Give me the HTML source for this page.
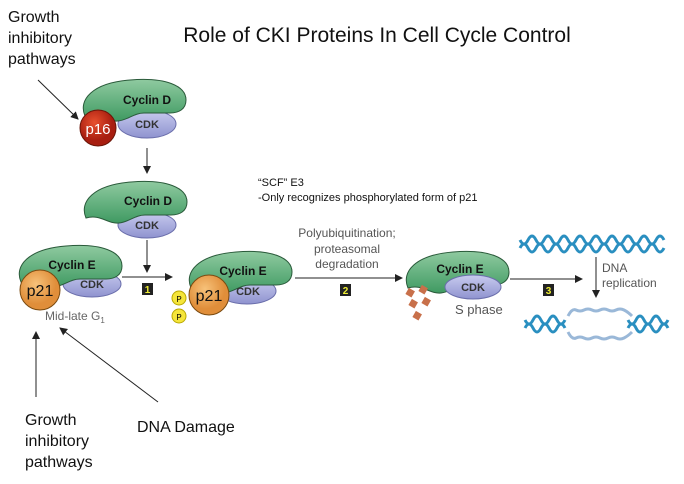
<!DOCTYPE html>
<html><head><style>body{margin:0;background:#fff}svg{display:block}</style></head><body>
<svg width="684" height="484" viewBox="0 0 684 484" xmlns="http://www.w3.org/2000/svg" font-family="Liberation Sans, sans-serif">
<defs>
<marker id="a" markerWidth="8" markerHeight="8" refX="7" refY="4" orient="auto" markerUnits="userSpaceOnUse"><path d="M0,0 L8,4 L0,8 Z" fill="#222"/></marker>
<linearGradient id="g" x1="0" y1="0" x2="0" y2="1"><stop offset="0" stop-color="#8fcaa0"/><stop offset="1" stop-color="#3f9a62"/></linearGradient>
<linearGradient id="c" x1="0" y1="0" x2="0" y2="1"><stop offset="0" stop-color="#c8cbef"/><stop offset="1" stop-color="#8f93cf"/></linearGradient>
<radialGradient id="r" cx="0.4" cy="0.35"><stop offset="0" stop-color="#e8502e"/><stop offset="1" stop-color="#a81e10"/></radialGradient>
<radialGradient id="o" cx="0.4" cy="0.35"><stop offset="0" stop-color="#f7c27a"/><stop offset="1" stop-color="#e08e3a"/></radialGradient>
<g id="cyc"><path d="M3,38 C-4,22 10,5 48,2 C84,-1 104,8 104,22 C104,31 97,35 88,35 L62,35 C52,35 46,42 36,43 C24,44 18,34 3,38 Z" fill="url(#g)" stroke="#2a5a3a" stroke-width="1"/></g>
</defs>
<text x="377" y="42" font-size="21" text-anchor="middle" fill="#111">Role of CKI Proteins In Cell Cycle Control</text>
<g font-size="16" fill="#111"><text x="8" y="22">Growth</text><text x="8" y="43">inhibitory</text><text x="8" y="64">pathways</text>
<text x="25" y="425">Growth</text><text x="25" y="446">inhibitory</text><text x="25" y="467">pathways</text>
<text x="137" y="432">DNA Damage</text></g>
<g stroke="#222" stroke-width="1" fill="none" marker-end="url(#a)">
<line x1="38" y1="80" x2="78" y2="119"/><line x1="36" y1="397" x2="36" y2="332"/><line x1="158" y1="402" x2="60" y2="328"/>
<line x1="147" y1="148" x2="147" y2="173"/><line x1="147" y1="240" x2="147" y2="272"/>
<line x1="122" y1="277" x2="172" y2="277"/><line x1="295" y1="278" x2="402" y2="278"/><line x1="510" y1="279" x2="582" y2="279"/><line x1="596" y1="257" x2="596" y2="297"/>
</g>
<!-- Cyclin D top -->
<ellipse cx="147" cy="124" rx="29" ry="14" fill="url(#c)" stroke="#6a6eab"/>
<use href="#cyc" x="82" y="78"/>
<circle cx="98" cy="128" r="18" fill="url(#r)" stroke="#6a1508"/>
<text x="98" y="134" font-size="15" fill="#fff" text-anchor="middle">p16</text>
<text x="147" y="104" font-size="12" font-weight="bold" text-anchor="middle" fill="#111">Cyclin D</text>
<text x="147" y="128" font-size="11" font-weight="bold" text-anchor="middle" fill="#333">CDK</text>
<!-- Cyclin D middle -->
<ellipse cx="147" cy="225" rx="29" ry="13" fill="url(#c)" stroke="#6a6eab"/>
<use href="#cyc" x="83" y="180"/>
<text x="148" y="205" font-size="12" font-weight="bold" text-anchor="middle" fill="#111">Cyclin D</text>
<text x="147" y="229" font-size="11" font-weight="bold" text-anchor="middle" fill="#333">CDK</text>
<!-- Cyclin E left -->
<ellipse cx="92" cy="284" rx="29" ry="13" fill="url(#c)" stroke="#6a6eab"/>
<use href="#cyc" x="18" y="244"/>
<circle cx="40" cy="290" r="20" fill="url(#o)" stroke="#7a4a10"/>
<text x="40" y="296" font-size="16" text-anchor="middle" fill="#111">p21</text>
<text x="72" y="269" font-size="12" font-weight="bold" text-anchor="middle" fill="#111">Cyclin E</text>
<text x="92" y="288" font-size="11" font-weight="bold" text-anchor="middle" fill="#333">CDK</text>
<text x="45" y="320" font-size="12" fill="#666">Mid-late G<tspan font-size="8" dy="3">1</tspan></text>
<rect x="142" y="283" width="11" height="12" fill="#222"/><text x="147.5" y="293" font-size="10" font-weight="bold" fill="#ee3" text-anchor="middle">1</text>
<!-- Cyclin E middle -->
<ellipse cx="247" cy="291" rx="29" ry="13" fill="url(#c)" stroke="#6a6eab"/>
<use href="#cyc" x="188" y="250"/>
<circle cx="209" cy="295" r="20" fill="url(#o)" stroke="#7a4a10"/>
<text x="209" y="301" font-size="16" text-anchor="middle" fill="#111">p21</text>
<text x="243" y="275" font-size="12" font-weight="bold" text-anchor="middle" fill="#111">Cyclin E</text>
<text x="248" y="295" font-size="11" font-weight="bold" text-anchor="middle" fill="#333">CDK</text>
<circle cx="179" cy="298" r="7" fill="#f5e53a" stroke="#b9a800"/><text x="179" y="302" font-size="8" text-anchor="middle">P</text>
<circle cx="179" cy="316" r="7" fill="#f5e53a" stroke="#b9a800"/><text x="179" y="320" font-size="8" text-anchor="middle">P</text>
<text x="258" y="186" font-size="11" fill="#111">“SCF” E3</text>
<text x="258" y="201" font-size="11" fill="#111">-Only recognizes phosphorylated  form of p21</text>
<g font-size="12" fill="#555" text-anchor="middle"><text x="347" y="237">Polyubiquitination;</text><text x="347" y="253">proteasomal</text><text x="347" y="268">degradation</text></g>
<rect x="340" y="284" width="11" height="12" fill="#222"/><text x="345.5" y="294" font-size="10" font-weight="bold" fill="#ee3" text-anchor="middle">2</text>
<!-- Cyclin E right -->
<use href="#cyc" x="405" y="250"/>
<ellipse cx="473" cy="287" rx="28" ry="12" fill="url(#c)" stroke="#6a6eab"/>
<text x="460" y="273" font-size="12" font-weight="bold" text-anchor="middle" fill="#111">Cyclin E</text>
<text x="473" y="291" font-size="11" font-weight="bold" text-anchor="middle" fill="#333">CDK</text>
<g fill="#c8704a"><rect x="407" y="289" width="7" height="7" transform="rotate(30 410 292)"/><rect x="420" y="286" width="7" height="7" transform="rotate(30 423 289)"/><rect x="410" y="300" width="7" height="7" transform="rotate(30 413 303)"/><rect x="423" y="298" width="7" height="7" transform="rotate(30 426 301)"/><rect x="414" y="312" width="7" height="7" transform="rotate(30 417 315)"/></g>
<text x="455" y="314" font-size="13" fill="#555">S phase</text>
<rect x="543" y="284" width="11" height="12" fill="#222"/><text x="548.5" y="294" font-size="10" font-weight="bold" fill="#ee3" text-anchor="middle">3</text>
<g font-size="12" fill="#555"><text x="602" y="272">DNA</text><text x="602" y="287">replication</text></g>
<g stroke="#2a8fc0" stroke-width="3" fill="none">
<path d="M520,240 q4,8 8,0 t8,0 t8,0 t8,0 t8,0 t8,0 t8,0 t8,0 t8,0 t8,0 t8,0 t8,0 t8,0 t8,0 t8,0 t8,0 t8,0 t8,0"/>
<path d="M520,248 q4,-8 8,0 t8,0 t8,0 t8,0 t8,0 t8,0 t8,0 t8,0 t8,0 t8,0 t8,0 t8,0 t8,0 t8,0 t8,0 t8,0 t8,0 t8,0"/>
<path d="M525,320 q4,8 8,0 t8,0 t8,0 t8,0 t8,0"/><path d="M525,328 q4,-8 8,0 t8,0 t8,0 t8,0 t8,0"/>
<path d="M628,320 q4,8 8,0 t8,0 t8,0 t8,0 t8,0"/><path d="M628,328 q4,-8 8,0 t8,0 t8,0 t8,0 t8,0"/>
</g>
<g stroke="#9ab8d8" stroke-width="3" fill="none">
<path d="M568,316 q4,-8 8,-6 t8,0 t8,0 t8,0 t8,0 t8,0 t8,0 t8,6"/>
<path d="M568,332 q4,8 8,6 t8,0 t8,0 t8,0 t8,0 t8,0 t8,0 t8,-6"/>
</g>
</svg>
</body></html>
